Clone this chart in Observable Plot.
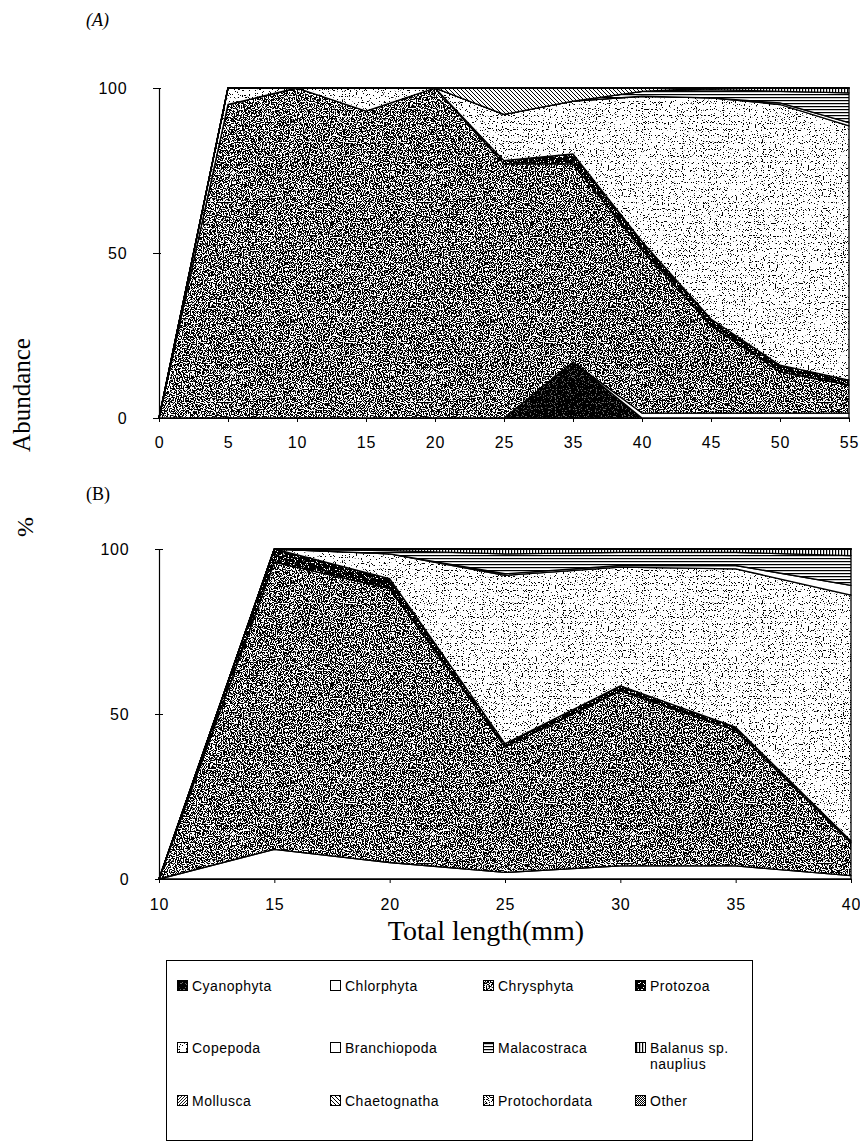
<!DOCTYPE html>
<html><head><meta charset="utf-8">
<script src="https://cdn.jsdelivr.net/npm/d3@7"></script>
<script src="https://cdn.jsdelivr.net/npm/@observablehq/plot@0.6"></script>
<style>
body{margin:0;background:#fff;}
#wrap{position:relative;width:860px;height:1142px;overflow:hidden;font-family:"Liberation Sans",Arial,sans-serif;color:#000;}
.abs{position:absolute;}
.serif{font-family:"Liberation Serif","Times New Roman",serif;}
.rot{transform:translate(-50%,-50%) rotate(-90deg);white-space:nowrap;}
#legend{position:absolute;left:166px;top:960px;width:585px;height:179px;border:1px solid #000;}
.item{position:absolute;font-size:14px;letter-spacing:0.5px;line-height:16px;}
.item svg{position:absolute;left:0;top:2px;}
.item span{position:absolute;left:15px;top:0;white-space:nowrap;}
</style></head><body>
<svg width="0" height="0" style="position:absolute">
<defs>
<filter id="nzDark" x="0" y="0" width="1" height="1" color-interpolation-filters="sRGB">
<feTurbulence type="fractalNoise" baseFrequency="0.85" numOctaves="1" seed="4"/>
<feColorMatrix type="matrix" values="0 0 0 0 0  0 0 0 0 0  0 0 0 0 0  -30 0 0 0 15.9"/>
</filter>
<filter id="nzVDark" x="0" y="0" width="1" height="1" color-interpolation-filters="sRGB">
<feTurbulence type="fractalNoise" baseFrequency="0.85" numOctaves="1" seed="7"/>
<feColorMatrix type="matrix" values="0 0 0 0 0  0 0 0 0 0  0 0 0 0 0  -30 0 0 0 19"/>
</filter>
<filter id="nzLight" x="0" y="0" width="1" height="1" color-interpolation-filters="sRGB">
<feTurbulence type="fractalNoise" baseFrequency="0.85" numOctaves="1" seed="11"/>
<feColorMatrix type="matrix" values="0 0 0 0 0  0 0 0 0 0  0 0 0 0 0  -30 0 0 0 11.3"/>
</filter>
<filter id="nzMid" x="0" y="0" width="1" height="1" color-interpolation-filters="sRGB">
<feTurbulence type="fractalNoise" baseFrequency="0.85" numOctaves="1" seed="2"/>
<feColorMatrix type="matrix" values="0 0 0 0 0  0 0 0 0 0  0 0 0 0 0  -30 0 0 0 14"/>
</filter>
<pattern id="pCyano" patternUnits="userSpaceOnUse" width="200" height="200"><rect width="200" height="200" fill="#fff"/><rect width="200" height="200" filter="url(#nzVDark)"/><rect width="200" height="200" fill="#000" opacity="0.6"/></pattern>
<pattern id="pChlor" patternUnits="userSpaceOnUse" width="10" height="10"><rect width="10" height="10" fill="#fff"/></pattern>
<pattern id="pChrys" patternUnits="userSpaceOnUse" width="200" height="200"><rect width="200" height="200" fill="#fff"/><rect width="200" height="200" filter="url(#nzDark)"/></pattern>
<pattern id="pProto" patternUnits="userSpaceOnUse" width="200" height="200"><rect width="200" height="200" fill="#fff"/><rect width="200" height="200" filter="url(#nzVDark)"/></pattern>
<pattern id="pCope" patternUnits="userSpaceOnUse" width="200" height="200"><rect width="200" height="200" fill="#fff"/><rect width="200" height="200" filter="url(#nzLight)"/></pattern>
<pattern id="pBranch" patternUnits="userSpaceOnUse" width="10" height="10"><rect width="10" height="10" fill="#fff"/></pattern>
<pattern id="pMalac" patternUnits="userSpaceOnUse" width="4" height="3"><rect width="4" height="3" fill="#fff"/><rect y="1" width="4" height="1.2" fill="#000"/></pattern>
<pattern id="pBalanus" patternUnits="userSpaceOnUse" width="3" height="4"><rect width="3" height="4" fill="#fff"/><rect x="1" width="1.2" height="4" fill="#000"/></pattern>
<pattern id="pMollusca" patternUnits="userSpaceOnUse" width="3" height="3"><rect width="3" height="3" fill="#fff"/><path d="M-1,1 L1,-1 M0,3 L3,0 M2,4 L4,2" stroke="#000" stroke-width="0.9"/></pattern>
<pattern id="pChaeto" patternUnits="userSpaceOnUse" width="4" height="4"><rect width="4" height="4" fill="#fff"/><path d="M-1,-1 L5,5 M-1,3 L1,5 M3,-1 L5,1" stroke="#000" stroke-width="1"/></pattern>
<pattern id="pProtoch" patternUnits="userSpaceOnUse" width="200" height="200"><rect width="200" height="200" fill="#fff"/><rect width="200" height="200" filter="url(#nzMid)"/></pattern>
<pattern id="pOther" patternUnits="userSpaceOnUse" width="2" height="2"><rect width="2" height="2" fill="#fff"/><rect width="1" height="1" fill="#000"/><rect x="1" y="1" width="1" height="1" fill="#000"/></pattern>
</defs>
</svg>
<div id="wrap">
  <div class="abs serif" style="left:86px;top:10px;font-size:18px;font-style:italic;">(A)</div>
  <div class="abs serif" style="left:86px;top:484px;font-size:18px;">(B)</div>
  <div class="abs serif rot" style="left:22px;top:395px;font-size:25px;">Abundance</div>
  <div class="abs serif rot" style="left:25px;top:527px;font-size:24px;">%</div>
  <div id="chartA" class="abs" style="left:0;top:60px;"></div>
  <div id="chartB" class="abs" style="left:0;top:521px;"></div>
  <div class="abs serif" style="left:0;width:972px;top:914px;text-align:center;font-size:28px;line-height:34px;">Total length(mm)</div>
  <div id="legend"></div>
</div>
<script>
// Prey groups (stacking order, bottom to top)
const series = ["Cyanophyta","Chlorphyta","Chrysphyta","Protozoa","Copepoda","Branchiopoda","Malacostraca","Balanus sp. nauplius","Mollusca","Chaetognatha","Protochordata","Other"];
const patternIds = ["pCyano","pChlor","pChrys","pProto","pCope","pBranch","pMalac","pBalanus","pMollusca","pChaeto","pProtoch","pOther"];

// (A) total length classes (mm)
const lengthsA = ["0","5","10","15","20","25","35","40","45","50","55"];
const cyanophytaA    = [0, 0,   0,  0,   0,  0, 17,  0,    0,    0,    0];
const chlorphytaA    = [0, 0,   0,  0,   0,  0,  0,  1.5,  1.5,  1.5,  1.5];
const chrysphytaA    = [0, 95, 100, 93, 100, 77, 60, 49.5, 26.5, 12.5, 8.5];
const protozoaA      = [0, 0,   0,  0,   0,  1,  3,  2.5,  2,    2,    1.5];
const copepodaA      = [0, 5,   0,  7,   0, 14, 16, 44,   67,   79,   77];
const branchiopodaA  = [0, 0,   0,  0,   0,  0,  0,  0,    0,    0.5,  1];
const malacostracaA  = [0, 0,   0,  0,   0,  0,  0,  1.5,  2.5,  3.5,  9];
const balanusA       = [0, 0,   0,  0,   0,  0,  0,  0,    0.5,  1,    1.5];
const molluscaA      = [0, 0,   0,  0,   0,  0,  0,  0,    0,    0,    0];
const chaetognathaA  = [0, 0,   0,  0,   0,  8,  4,  1,    0,    0,    0];
const protochordataA = [0, 0,   0,  0,   0,  0,  0,  0,    0,    0,    0];
const otherA         = [0, 0,   0,  0,   0,  0,  0,  0,    0,    0,    0];

// (B) total length (mm)
const lengthsB = [10, 15, 20, 25, 30, 35, 40];
const cyanophytaB    = [0, 0,  0,   0,  0,   0,  0];
const chlorphytaB    = [0, 9,  5,   2,  4,   4,  1];
const chrysphytaB    = [0, 87, 83, 38, 53,  41, 10];
const protozoaB      = [0, 4,  3,   1,  1.5, 1,  0.5];
const copepodaB      = [0, 0,  7.5, 51, 36, 48, 74.5];
const branchiopodaB  = [0, 0,  0,   0.5, 0.5, 1, 3];
const malacostracaB  = [0, 0,  1,   6,  4,   4,  9];
const balanusB       = [0, 0,  0.5, 1.5, 1,  1,  2];
const molluscaB      = [0, 0,  0,   0,  0,   0,  0];
const chaetognathaB  = [0, 0,  0,   0,  0,   0,  0];
const protochordataB = [0, 0,  0,   0,  0,   0,  0];
const otherB         = [0, 0,  0,   0,  0,   0,  0];

const yTicks = [0, 50, 100];
const xTicksB = [10, 15, 20, 25, 30, 35, 40];

function tidy(xs, cols) {
  const out = [];
  cols.forEach((vals, k) => vals.forEach((v, i) => out.push({x: xs[i], y: v, series: series[k]})));
  return out;
}
const dataA = tidy(lengthsA, [cyanophytaA, chlorphytaA, chrysphytaA, protozoaA, copepodaA, branchiopodaA, malacostracaA, balanusA, molluscaA, chaetognathaA, protochordataA, otherA]);
const dataB = tidy(lengthsB, [cyanophytaB, chlorphytaB, chrysphytaB, protozoaB, copepodaB, branchiopodaB, malacostracaB, balanusB, molluscaB, chaetognathaB, protochordataB, otherB]);

const colorScale = {domain: series, range: patternIds.map(id => `url(#${id})`)};
const style = {fontFamily: "'Liberation Sans', Arial, sans-serif", fontSize: "16px", letterSpacing: "0.8px", color: "#000", background: "transparent"};

const plotA = Plot.plot({
  width: 860, height: 393,
  marginLeft: 157, marginRight: 10, marginTop: 28, marginBottom: 35,
  style,
  x: {type: "point", domain: lengthsA, padding: 0},
  y: {domain: [0, 100]},
  color: colorScale,
  marks: [
    Plot.areaY(dataA, {x: "x", y: "y", z: "series", fill: "series", stroke: "#000", strokeWidth: 1.3}),
    Plot.ruleX([lengthsA[0]], {stroke: "#000", strokeWidth: 1.2}),
    Plot.ruleY([0], {stroke: "#000", strokeWidth: 1.2}),
    Plot.axisY({ticks: yTicks, tickSize: 4, tickPadding: 26, label: null}),
    Plot.axisY({ticks: yTicks, tickSize: 4, dx: 4, tickFormat: () => "", label: null}),
    Plot.axisX({tickSize: 4, tickPadding: 14, label: null})
  ]
});
document.getElementById("chartA").append(plotA);

const plotB = Plot.plot({
  width: 860, height: 393,
  marginLeft: 159, marginRight: 9, marginTop: 28, marginBottom: 35,
  style,
  x: {domain: [10, 40]},
  y: {domain: [0, 100]},
  color: colorScale,
  marks: [
    Plot.areaY(dataB, {x: "x", y: "y", z: "series", fill: "series", stroke: "#000", strokeWidth: 1.3}),
    Plot.ruleX([10], {stroke: "#000", strokeWidth: 1.2}),
    Plot.ruleY([0], {stroke: "#000", strokeWidth: 1.2}),
    Plot.axisY({ticks: yTicks, tickSize: 4, tickPadding: 26, label: null}),
    Plot.axisY({ticks: yTicks, tickSize: 4, dx: 4, tickFormat: () => "", label: null}),
    Plot.axisX({ticks: xTicksB, tickSize: 4, tickPadding: 15, label: null})
  ]
});
document.getElementById("chartB").append(plotB);

// Legend (3 rows x 4 columns)
const legendLabels = ["Cyanophyta","Chlorphyta","Chrysphyta","Protozoa","Copepoda","Branchiopoda","Malacostraca","Balanus sp.\nnauplius","Mollusca","Chaetognatha","Protochordata","Other"];
const legend = document.getElementById("legend");
const colX = [10, 163, 316, 468];
const rowY = [17, 79, 132];
legendLabels.forEach((lab, i) => {
  const r = Math.floor(i / 4), c = i % 4;
  const d = document.createElement("div");
  d.className = "item";
  d.style.left = colX[c] + "px";
  d.style.top = rowY[r] + "px";
  d.innerHTML = `<svg width="11" height="11"><rect x="0.5" y="0.5" width="10" height="10" fill="url(#${patternIds[i]})" stroke="#000" stroke-width="1"/></svg><span>${lab.replace("\n", "<br>")}</span>`;
  legend.append(d);
});
</script>
</body></html>
